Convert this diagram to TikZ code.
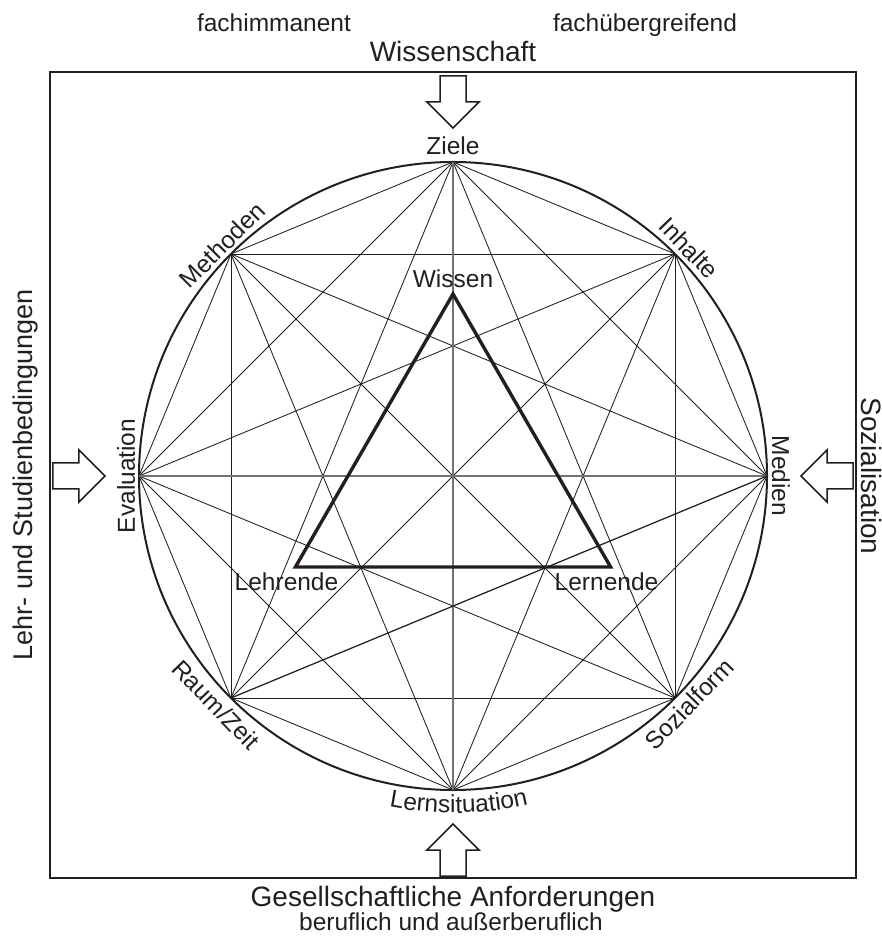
\documentclass[tikz,border=0pt]{standalone}
\usepackage{fontspec}
\setmainfont{Liberation Sans}
\usetikzlibrary{decorations.text}
\definecolor{ink}{RGB}{35,31,32}
\begin{document}
\begin{tikzpicture}[x=1pt,y=1pt,
  lbl/.style={font=\fontsize{24.5}{29}\selectfont, inner sep=0pt, text=ink},
  bigtxt/.style={font=\fontsize{28}{33}\selectfont, inner sep=0pt, text=ink},
  sidetxt/.style={font=\fontsize{27}{32}\selectfont, inner sep=0pt, text=ink},
  chord/.style={draw=ink, line width=0.85pt},
  midchord/.style={draw=black!55, line width=1.3pt},
  boldchord/.style={draw=ink, line width=1.25pt},
  ring/.style={draw=ink, line width=2pt},
  tri/.style={draw=ink, line width=3.4pt, line join=miter},
  frame/.style={draw=ink, line width=1.6pt},
  blockarrow/.style={draw=ink, line width=1.5pt, fill=white, line join=miter}]
\useasboundingbox (-453,-465) rectangle (428,476);
% frame
\draw[frame] (-403,-402) rectangle (403,404);
% arrows (all pointing toward the centre)
\foreach \r in {0,90,180,270}
  \draw[blockarrow, rotate=\r] (-13,400) -- (13,400) -- (13,374) -- (26,374)
      -- (0,348) -- (-26,374) -- (-13,374) -- cycle;
% circle and points
\draw[ring] (0,0) circle[radius=314];
\foreach \i in {0,...,7}
  \coordinate (P\i) at ({90-45*\i}:314);
% chords
\foreach \a/\b in {0/1,0/2,0/3,0/5,0/6,0/7,1/2,1/3,1/4,1/5,1/6,1/7,
                   2/3,2/4,2/7,3/4,3/5,3/6,3/7,4/5,4/6,4/7,5/6,5/7,6/7}
  \draw[chord] (P\a) -- (P\b);
\draw[midchord] (P0) -- (P4);
\draw[midchord] (P6) -- (P2);
\draw[boldchord] (P2) -- (P5);
% triangle
\coordinate (T0) at (90:182);
\coordinate (T1) at (210:182);
\coordinate (T2) at (330:182);
\draw[tri] (T0) -- (T1) -- (T2) -- cycle;
\node[lbl, anchor=base] (wissen) at (0,188) {Wissen};
\node[lbl, anchor=base] (lehrende) at (-166.5,-114) {Lehrende};
\node[lbl, anchor=base] (lernende) at (153.5,-114) {Lernende};
% circle labels
\node[lbl, anchor=base] (ziele) at (90:321) {Ziele};
\node[lbl, anchor=base, rotate=-46] (inhalte) at (44:319.5) {Inhalte};
\node[lbl, anchor=base, rotate=-90] (medien) at (0:319) {Medien};
\node[lbl, anchor=base, rotate=46] (sozialform) at (-44:337) {Sozialform};
\node[lbl, anchor=base, rotate=-46] (raumzeit) at (-136:338) {Raum/Zeit};
\node[lbl, anchor=base, rotate=90] (evaluation) at (180:318) {Evaluation};
\node[lbl, anchor=base, rotate=45] (methoden) at (135:318) {Methoden};
\path[decorate, decoration={text along path, text align=center,
   text={|\fontsize{24.5}{29}\selectfont\color{ink}|Lernsituation}}]
   (-121:337) arc[start angle=-121, end angle=-57, radius=337];
% outer texts
\node[lbl, anchor=base] (fachimm) at (-179,444.3) {fachimmanent};
\node[lbl, anchor=base] (fachueb) at (192,444) {fachübergreifend};
\node[bigtxt, anchor=base] (wiss) at (0,414.3) {Wissenschaft};
\node[bigtxt, anchor=base] (gesell) at (0,-430) {Gesellschaftliche Anforderungen};
\node[lbl, anchor=base] (beruf) at (-2,-454) {beruflich und außerberuflich};
\node[sidetxt, anchor=base, rotate=90] (lehr) at (-420,1) {Lehr- und Studienbedingungen};
\node[bigtxt, anchor=base, rotate=-90] (sozial) at (408,0) {Sozialisation};
\end{tikzpicture}
\end{document}
